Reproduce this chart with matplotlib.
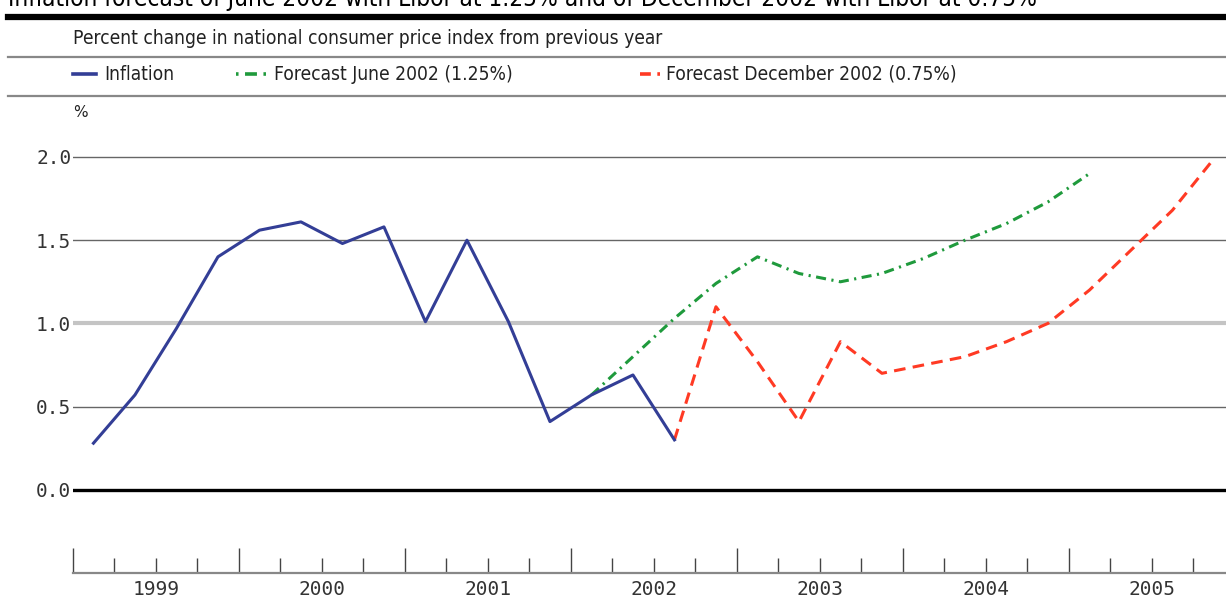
import numpy as np
import matplotlib
matplotlib.use('Agg')
import matplotlib.pyplot as plt
from matplotlib.lines import Line2D
from matplotlib.ticker import FixedLocator, NullFormatter
from matplotlib import font_manager

# Datos (trimestrales, % de variación interanual)
years = [1999, 2000, 2001, 2002, 2003, 2004, 2005]
inflation = [0.28, 0.57, 0.97, 1.40, 1.56, 1.61, 1.48, 1.58,
             1.01, 1.50, 1.01, 0.41, 0.57, 0.69, 0.30]
inflation_start = 1999.0          # 1999 T1
forecast_june = [0.57, 0.80, 1.03, 1.24, 1.40, 1.30, 1.25, 1.30,
                 1.39, 1.50, 1.60, 1.73, 1.90]
forecast_june_start = 2002.0      # 2002 T1
forecast_dec = [0.30, 1.10, 0.77, 0.41, 0.89, 0.70, 0.75, 0.80,
                0.89, 1.00, 1.20, 1.44, 1.68, 1.99]
forecast_dec_start = 2002.5       # 2002 T3
yticks = [0.0, 0.5, 1.0, 1.5, 2.0]

title = 'Inflation forecast of June 2002 with Libor at 1.25% and of December 2002 with Libor at 0.75%'
subtitle = 'Percent change in national consumer price index from previous year'
labels = ['Inflation', 'Forecast June 2002 (1.25%)', 'Forecast December 2002 (0.75%)']

c_blue = '#333e96'
c_green = '#1f9a3c'
c_red = '#ff3a24'
mono = ['DejaVu Sans Mono']

# Fuente estrecha si existe
names = set(f.name for f in font_manager.fontManager.ttflist)
condensed_ok = any(f.name == 'DejaVu Sans' and f.stretch in ('condensed', 'semi-condensed', 600, 700)
                   for f in font_manager.fontManager.ttflist) or 'DejaVu Sans Condensed' in names
if condensed_ok:
    narrow_kw = dict(family='DejaVu Sans', stretch='condensed', fontsize=13.8)
    title_kw = dict(family='DejaVu Sans', stretch='condensed', fontsize=17.5)
else:
    narrow_kw = dict(family='DejaVu Sans', fontsize=12.5)
    title_kw = dict(family='DejaVu Sans', fontsize=15.5)


def quarter_x(start, n):
    # centro de cada trimestre
    return start + (np.arange(n) + 0.5) / 4.0


W, H = 1226, 601
fig = plt.figure(figsize=(W / 100, H / 100), dpi=100)
ax = fig.add_axes([72.7 / W, 1 - 573 / H, 1 - 72.7 / W, (573 - 123.7) / H])

ax.set_xlim(1999.0, 1999.0 + (W - 72.7) / 166.0)
ax.set_ylim(-0.5, 2.2)

# Líneas de referencia
for v in yticks:
    if v == 0.0:
        ax.axhline(v, color='black', lw=2.4, zorder=1)
    elif v == 1.0:
        ax.axhline(v, color='#c4c4c4', lw=3, zorder=1)
    else:
        ax.axhline(v, color='#666666', lw=1.0, zorder=1)

ax.plot(quarter_x(inflation_start, len(inflation)), inflation,
        color=c_blue, lw=2.2, zorder=3)
ax.plot(quarter_x(forecast_june_start, len(forecast_june)), forecast_june,
        color=c_green, lw=2.2, dashes=(3.3, 1.8, 0.7, 1.8), zorder=2)
ax.plot(quarter_x(forecast_dec_start, len(forecast_dec)), forecast_dec,
        color=c_red, lw=2.2, dashes=(3.8, 2.4), zorder=2)

# Ejes
for s in ['top', 'left', 'right']:
    ax.spines[s].set_visible(False)
ax.spines['bottom'].set_color('#888888')
ax.spines['bottom'].set_linewidth(1.6)

ax.xaxis.set_major_locator(FixedLocator(years + [2006]))
ax.xaxis.set_minor_locator(FixedLocator(
    [y + q / 4 for y in years for q in (1, 2, 3)]))
ax.xaxis.set_major_formatter(NullFormatter())
ax.tick_params(axis='x', which='major', direction='in', length=18,
               width=1.0, color='#444444')
ax.tick_params(axis='x', which='minor', direction='in', length=11,
               width=1.0, color='#444444')
for y in years:
    ax.text(y + 0.5, -0.0375, str(y), transform=ax.get_xaxis_transform(),
            ha='center', va='center', fontsize=14, family=mono, color='#333333')

ax.set_yticks(yticks)
ax.set_yticklabels(['%.1f' % v for v in yticks], family=mono, fontsize=14,
                   color='#333333')
ax.tick_params(axis='y', length=0, pad=1)

# Cabecera (el título queda cortado arriba, como en el original)
fig.text(8 / W, 1 - 6 / H, title, ha='left', va='baseline', color='black', **title_kw)
fig.add_artist(Line2D([8 / W, 1], [1 - 17 / H] * 2, color='black', lw=4.5))
fig.text(73 / W, 1 - 38 / H, subtitle, ha='left', va='center',
         color='#222222', **narrow_kw)
fig.add_artist(Line2D([8 / W, 1], [1 - 57 / H] * 2, color='#888888', lw=1.6))
fig.add_artist(Line2D([8 / W, 1], [1 - 96 / H] * 2, color='#888888', lw=1.6))

# Leyenda
legend_items = [
    (73, 96, 104, c_blue, dict()),
    (236, 268, 274, c_green, dict(dashes=(0.7, 1.8, 3.3, 1.8))),
    (640, 660, 666, c_red, dict(dashes=(3.0, 1.8))),
]
for (x0, x1, xt, col, kw), lab in zip(legend_items, labels):
    fig.add_artist(Line2D([x0 / W, x1 / W], [1 - 74 / H] * 2, color=col,
                          lw=2.6, **kw))
    fig.text(xt / W, 1 - 74 / H, lab, ha='left', va='center',
             color='#222222', **narrow_kw)

fig.text(80 / W, 1 - 112 / H, '%', ha='center', va='center', fontsize=11,
         family='DejaVu Sans', color='#222222')

fig.savefig('out.png', dpi=100)
